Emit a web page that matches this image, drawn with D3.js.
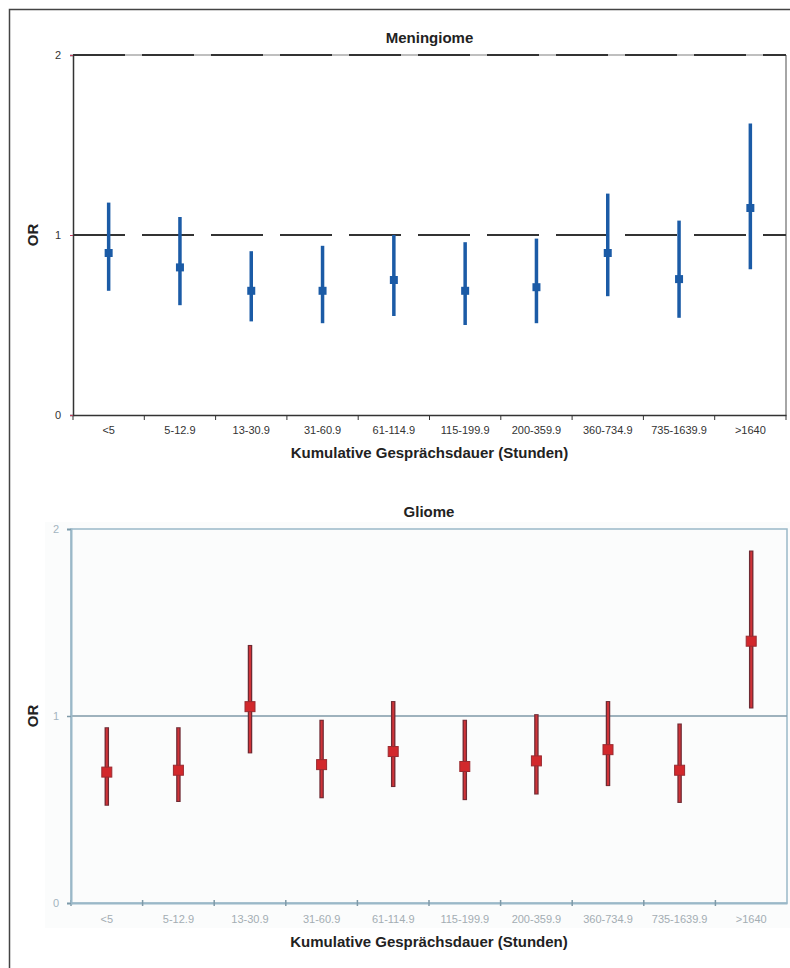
<!doctype html>
<html lang="de">
<head>
  <meta charset="utf-8">
  <title>Meningiome / Gliome OR</title>
  <script src="https://d3js.org/d3.v7.min.js"></script>
  <style>
    body { margin: 0; background: #fff; }
    text { font-family: "Liberation Sans", Arial, sans-serif; }
  </style>
</head>
<body>
  <div id="chart"></div>
  <script type="text/javascript">
	// categories (cumulative call time in hours)
	var categories = ["<5","5-12.9","13-30.9","31-60.9","61-114.9","115-199.9","200-359.9","360-734.9","735-1639.9",">1640"];
	var yTicks = [0, 1, 2];

	// Meningiome: odds ratio and 95% CI
	var menOR    = [0.90, 0.82, 0.69, 0.69, 0.75, 0.69, 0.71, 0.90, 0.755, 1.15];
	var menLower = [0.69, 0.61, 0.52, 0.51, 0.55, 0.50, 0.51, 0.66, 0.54, 0.81];
	var menUpper = [1.18, 1.10, 0.91, 0.94, 1.00, 0.96, 0.98, 1.23, 1.08, 1.62];

	// Gliome: odds ratio and 95% CI
	var gliOR    = [0.70, 0.71, 1.05, 0.74, 0.81, 0.73, 0.76, 0.82, 0.71, 1.40];
	var gliLower = [0.52, 0.54, 0.80, 0.56, 0.62, 0.55, 0.58, 0.625, 0.535, 1.04];
	var gliUpper = [0.94, 0.94, 1.38, 0.98, 1.08, 0.98, 1.01, 1.08, 0.96, 1.885];

	var width = 790, height = 968;

	var svg = d3.select('#chart')
				.append('svg')
				.attr('width', width)
				.attr('height', height);

	// outer frame of the figure
	svg.append('rect')
		.attr('x', 9.5).attr('y', 9.5)
		.attr('width', 800).attr('height', 980)
		.attr('fill', 'none')
		.attr('stroke', '#444')
		.attr('stroke-width', 1.5);

	function rows(or, lo, hi) {
		return categories.map(function(c, i) { return {cat: c, or: or[i], lo: lo[i], hi: hi[i]}; });
	}

	// ---------------- top panel: Meningiome ----------------
	var x1 = d3.scaleBand().domain(categories).range([73, 786]);
	var y1 = d3.scaleLinear().domain([0, 2]).range([415, 55]);

	var pTop = svg.append('g');

	// gray frame top / right
	pTop.append('line').attr('x1', 73).attr('x2', 786).attr('y1', y1(2)).attr('y2', y1(2))
		.attr('stroke', '#aaa').attr('stroke-width', 1.5);
	pTop.append('line').attr('x1', 786).attr('x2', 786).attr('y1', y1(2)).attr('y2', y1(0))
		.attr('stroke', '#888').attr('stroke-width', 1.5);

	// dashed reference lines at 1 and 2
	pTop.selectAll('.dash')
		.data([1, 2])
		.enter()
		.append('line')
		.attr('x1', 73).attr('x2', 786)
		.attr('y1', function(d) { return y1(d); })
		.attr('y2', function(d) { return y1(d); })
		.attr('stroke', '#333')
		.attr('stroke-width', 2)
		.attr('stroke-dasharray', '52,17');

	// axes
	var xAxis1 = pTop.append('g')
		.attr('transform', 'translate(0,' + y1(0) + ')')
		.call(d3.axisBottom(x1).tickSize(0).tickPadding(11));
	xAxis1.select('.domain').attr('stroke', '#333').attr('stroke-width', 1.5);
	xAxis1.selectAll('text').attr('font-size', 11).attr('fill', '#333');
	// ticks between the categories
	pTop.selectAll('.xt')
		.data(d3.range(categories.length + 1))
		.enter()
		.append('line')
		.attr('x1', function(d) { return 73 + d * x1.step(); })
		.attr('x2', function(d) { return 73 + d * x1.step(); })
		.attr('y1', y1(0)).attr('y2', y1(0) + 5)
		.attr('stroke', '#333').attr('stroke-width', 1);

	var yAxis1 = pTop.append('g')
		.attr('transform', 'translate(73,0)')
		.call(d3.axisLeft(y1).tickValues(yTicks).tickFormat(d3.format('d')).tickSize(3).tickPadding(9));
	yAxis1.select('.domain').attr('stroke', '#333').attr('stroke-width', 1.5);
	yAxis1.selectAll('.tick line').attr('stroke', '#c04060');
	yAxis1.selectAll('text').attr('font-size', 11).attr('fill', '#333');

	var menData = rows(menOR, menLower, menUpper);

	// whiskers
	pTop.selectAll('.ci')
		.data(menData)
		.enter()
		.append('line')
		.attr('x1', function(d) { return x1(d.cat) + x1.bandwidth() / 2; })
		.attr('x2', function(d) { return x1(d.cat) + x1.bandwidth() / 2; })
		.attr('y1', function(d) { return y1(d.lo); })
		.attr('y2', function(d) { return y1(d.hi); })
		.attr('stroke', '#1b5ba6')
		.attr('stroke-width', 3.5);

	// point estimates
	pTop.selectAll('.pt')
		.data(menData)
		.enter()
		.append('rect')
		.attr('x', function(d) { return x1(d.cat) + x1.bandwidth() / 2 - 4; })
		.attr('y', function(d) { return y1(d.or) - 4; })
		.attr('width', 8).attr('height', 8)
		.attr('fill', '#1b5ba6');

	pTop.append('text').attr('x', 429.5).attr('y', 43)
		.attr('text-anchor', 'middle').attr('font-size', 15).attr('font-weight', 'bold').attr('fill', '#222')
		.text('Meningiome');
	pTop.append('text').attr('x', 429.5).attr('y', 458)
		.attr('text-anchor', 'middle').attr('font-size', 15).attr('font-weight', 'bold').attr('fill', '#222')
		.text('Kumulative Gesprächsdauer (Stunden)');
	pTop.append('text').attr('transform', 'translate(38,' + y1(1) + ') rotate(-90)')
		.attr('text-anchor', 'middle').attr('font-size', 15).attr('font-weight', 'bold').attr('fill', '#222')
		.text('OR');

	// ---------------- bottom panel: Gliome ----------------
	var x2 = d3.scaleBand().domain(categories).range([71, 787]);
	var y2 = d3.scaleLinear().domain([0, 2]).range([903, 529]);
	var axisCol = '#9ab8c8';

	var pBot = svg.append('g');

	// pasted-in picture background
	pBot.append('rect').attr('x', 45).attr('y', 522).attr('width', 745).attr('height', 406)
		.attr('fill', '#fbfcfc');

	// frame of the plot
	pBot.append('rect').attr('x', 71).attr('y', y2(2)).attr('width', 787 - 71).attr('height', y2(0) - y2(2))
		.attr('fill', 'none').attr('stroke', axisCol).attr('stroke-width', 1.5);

	// reference line at 1
	pBot.append('line').attr('x1', 71).attr('x2', 787).attr('y1', y2(1)).attr('y2', y2(1))
		.attr('stroke', '#7f9aa8').attr('stroke-width', 1.5);

	var xAxis2 = pBot.append('g')
		.attr('transform', 'translate(0,' + y2(0) + ')')
		.call(d3.axisBottom(x2).tickSize(0).tickPadding(12));
	xAxis2.select('.domain').attr('stroke', axisCol).attr('stroke-width', 2);
	xAxis2.selectAll('text').attr('font-size', 11).attr('fill', '#a3adb3');
	pBot.selectAll('.xt')
		.data(d3.range(categories.length))
		.enter()
		.append('line')
		.attr('x1', function(d) { return 71 + d * x2.step(); })
		.attr('x2', function(d) { return 71 + d * x2.step(); })
		.attr('y1', y2(0) - 3).attr('y2', y2(0) + 3)
		.attr('stroke', '#7f9aa8').attr('stroke-width', 1.5);

	var yAxis2 = pBot.append('g')
		.attr('transform', 'translate(71,0)')
		.call(d3.axisLeft(y2).tickValues(yTicks).tickFormat(d3.format('d')).tickSize(4).tickPadding(8));
	yAxis2.select('.domain').attr('stroke', axisCol).attr('stroke-width', 2);
	yAxis2.selectAll('.tick line').attr('stroke', '#7f9aa8').attr('stroke-width', 1.5);
	yAxis2.selectAll('text').attr('font-size', 11).attr('fill', '#a3b4c0');

	var gliData = rows(gliOR, gliLower, gliUpper);

	// whiskers: dark edge with red core
	pBot.selectAll('.ciEdge')
		.data(gliData)
		.enter()
		.append('line')
		.attr('x1', function(d) { return x2(d.cat) + x2.bandwidth() / 2; })
		.attr('x2', function(d) { return x2(d.cat) + x2.bandwidth() / 2; })
		.attr('y1', function(d) { return y2(d.lo); })
		.attr('y2', function(d) { return y2(d.hi); })
		.attr('stroke', '#6e2a33')
		.attr('stroke-width', 4.5);
	pBot.selectAll('.ci')
		.data(gliData)
		.enter()
		.append('line')
		.attr('x1', function(d) { return x2(d.cat) + x2.bandwidth() / 2; })
		.attr('x2', function(d) { return x2(d.cat) + x2.bandwidth() / 2; })
		.attr('y1', function(d) { return y2(d.lo) - 1; })
		.attr('y2', function(d) { return y2(d.hi) + 1; })
		.attr('stroke', '#cf3338')
		.attr('stroke-width', 2);

	pBot.selectAll('.pt')
		.data(gliData)
		.enter()
		.append('rect')
		.attr('x', function(d) { return x2(d.cat) + x2.bandwidth() / 2 - 5; })
		.attr('y', function(d) { return y2(d.or) - 5; })
		.attr('width', 10).attr('height', 10)
		.attr('fill', '#d2282c')
		.attr('stroke', '#9a2a30')
		.attr('stroke-width', 1);

	pBot.append('text').attr('x', 429).attr('y', 517)
		.attr('text-anchor', 'middle').attr('font-size', 15).attr('font-weight', 'bold').attr('fill', '#222')
		.text('Gliome');
	pBot.append('text').attr('x', 429).attr('y', 947)
		.attr('text-anchor', 'middle').attr('font-size', 15).attr('font-weight', 'bold').attr('fill', '#222')
		.text('Kumulative Gesprächsdauer (Stunden)');
	pBot.append('text').attr('transform', 'translate(38,' + y2(1) + ') rotate(-90)')
		.attr('text-anchor', 'middle').attr('font-size', 15).attr('font-weight', 'bold').attr('fill', '#222')
		.text('OR');
  </script>
</body>
</html>
